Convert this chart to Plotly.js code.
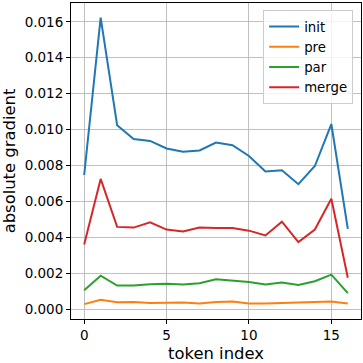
<!DOCTYPE html>
<html>
<head>
<meta charset="utf-8">
<script src="https://cdn.plot.ly/plotly-3.0.1.min.js"></script>
<style>html,body{margin:0;padding:0;background:#fff}#chart{width:363px;height:363px}</style>
</head>
<body>
<div id="chart"></div>
<script>
const tokenIndex = [0,1,2,3,4,5,6,7,8,9,10,11,12,13,14,15,16];
const initVals  = [0.00747,0.01624,0.01024,0.00947,0.00937,0.00895,0.00877,0.00884,0.00928,0.00913,0.00853,0.00766,0.00773,0.00696,0.00797,0.01031,0.00447];
const preVals   = [0.00028,0.00052,0.00038,0.00040,0.00034,0.00037,0.00037,0.00032,0.00040,0.00042,0.00032,0.00032,0.00035,0.00035,0.00037,0.00042,0.00031];
const parVals   = [0.00105,0.00186,0.00131,0.00131,0.00138,0.00142,0.00137,0.00144,0.00166,0.00160,0.00151,0.00137,0.00148,0.00135,0.00155,0.00192,0.00089];
const mergeVals = [0.00360,0.00725,0.00458,0.00454,0.00483,0.00443,0.00432,0.00454,0.00452,0.00452,0.00437,0.00410,0.00487,0.00373,0.00443,0.00615,0.00175];
const seriesNames = ['init','pre','par','merge'];
const colors = ['#1f77b4','#ff7f0e','#2ca02c','#d62728'];
const yTicks = [0,0.002,0.004,0.006,0.008,0.010,0.012,0.014,0.016];
const xTicks = [0,5,10,15];

const all = [initVals, preVals, parVals, mergeVals];
const traces = all.map((v,i)=>({
  x: tokenIndex, y: v, type:'scatter', mode:'lines', name: seriesNames[i],
  line:{color:colors[i], width:2}
}));

const font = {family:'DejaVu Sans, sans-serif', size:13.5, color:'#000'};
const layout = {
  width:363, height:363,
  margin:{l:71, r:2, t:3, b:44, pad:0},
  paper_bgcolor:'#fff', plot_bgcolor:'#fff',
  font: font,
  showlegend:true,
  legend:{x:0.973, y:0.977, xanchor:'right', yanchor:'top',
    bgcolor:'rgba(255,255,255,0.8)', bordercolor:'#cccccc', borderwidth:1,
    font:{family:'DejaVu Sans, sans-serif', size:13.3, color:'#000'}, tracegroupgap:0},
  xaxis:{range:[-0.8,16.8], tickvals:xTicks, ticktext:xTicks.map(String),
    showgrid:true, gridcolor:'#b0b0b0', gridwidth:0.8, zeroline:false,
    showline:true, mirror:true, linecolor:'#000', linewidth:1,
    ticks:'outside', ticklen:4, tickcolor:'#000', tickwidth:1,
    title:{text:'token index', font:{family:'DejaVu Sans, sans-serif', size:16.4}, standoff:6},
    tickfont:font},
  yaxis:{range:[-0.00055,0.01705], tickvals:yTicks, tickformat:'.3f',
    showgrid:true, gridcolor:'#b0b0b0', gridwidth:0.8, zeroline:false,
    showline:true, mirror:true, linecolor:'#000', linewidth:1,
    ticks:'outside', ticklen:4, tickcolor:'#000', tickwidth:1,
    title:{text:'absolute gradient', font:{family:'DejaVu Sans, sans-serif', size:16.4}, standoff:8},
    tickfont:font}
};
Plotly.newPlot('chart', traces, layout, {displayModeBar:false, staticPlot:true});
</script>
</body>
</html>
